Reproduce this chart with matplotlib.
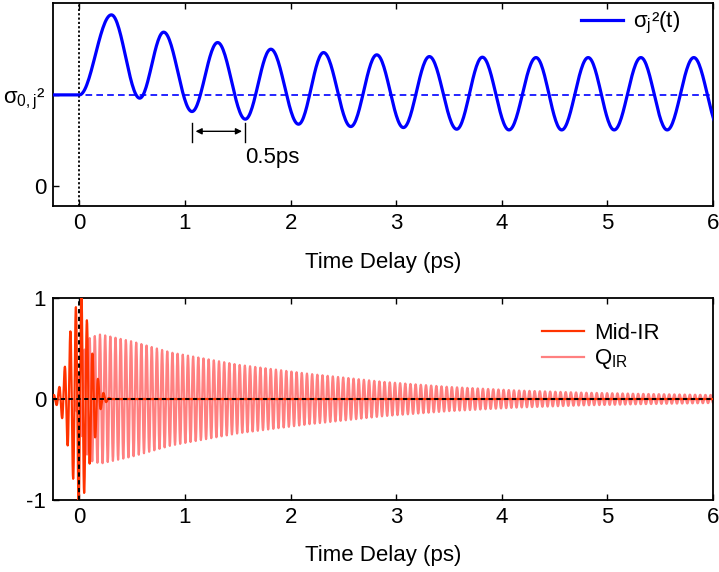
import numpy as np
import matplotlib
matplotlib.use("Agg")
import matplotlib.pyplot as plt

plt.rcParams['font.family'] = ['Liberation Sans', 'DejaVu Sans']
plt.rcParams['mathtext.fontset'] = 'custom'
plt.rcParams['mathtext.rm'] = 'Liberation Sans'
plt.rcParams['mathtext.it'] = 'Liberation Sans'
plt.rcParams['mathtext.bf'] = 'Liberation Sans:bold'
plt.rcParams['axes.unicode_minus'] = False

## top panel: extrema of sigma_j^2(t) (units of sigma_0^2)
sig_t = [-0.25, 0.0, 0.303, 0.571, 0.798, 1.066, 1.309, 1.571, 1.813, 2.075,
         2.312, 2.570, 2.816, 3.068, 3.314, 3.573, 3.816, 4.068, 4.324, 4.567,
         4.818, 5.064, 5.317, 5.566, 5.818, 6.070]
sig_v = [1.0, 1.0, 1.879, 0.964, 1.689, 0.817, 1.575, 0.733, 1.502, 0.678,
         1.465, 0.652, 1.440, 0.641, 1.421, 0.623, 1.414, 0.615, 1.410, 0.615,
         1.410, 0.615, 1.410, 0.615, 1.410, 0.615]

## bottom panel: Mid-IR pulse extrema
mir_t = [-0.267, -0.241, -0.215, -0.189, -0.163, -0.137, -0.111, -0.085, -0.059,
         -0.033, -0.007, 0.019, 0.045, 0.071, 0.097, 0.123, 0.149, 0.175, 0.201,
         0.227, 0.253, 0.279, 0.305]
mir_v = [0.0, 0.04, -0.06, 0.12, -0.19, 0.32, -0.46, 0.67, -0.79,
         0.91, -1.05, 1.05, -0.93, 0.78, -0.64, 0.45, -0.38, 0.20, -0.10,
         0.06, -0.03, 0.01, 0.0]

qir_env_t = [-0.05, 0.0, 0.05, 0.1, 0.2, 0.5, 0.87, 1.5, 2.17, 2.88, 3.5, 4.14, 4.77, 5.4, 6.0]
qir_env_v = [0.0, 0.25, 0.50, 0.61, 0.64, 0.57, 0.46, 0.34, 0.25, 0.17, 0.12, 0.085, 0.063, 0.05, 0.04]
qir_period = 0.049

blue = "#0000FF"
midir_col = "#FF3300"
qir_col = "#FF8080"


def cos_segments(tx, vy, n=12):
    """Join extrema with half-cosine segments (zero slope at each extremum)."""
    ts, vs = [], []
    for i in range(len(tx) - 1):
        s = np.linspace(0, 1, n, endpoint=False)
        ts.append(tx[i] + (tx[i + 1] - tx[i]) * s)
        vs.append(vy[i] + (vy[i + 1] - vy[i]) * (1 - np.cos(np.pi * s)) / 2)
    ts.append([tx[-1]])
    vs.append([vy[-1]])
    return np.concatenate(ts), np.concatenate(vs)


fig = plt.figure(figsize=(7.19, 5.72), dpi=100)
ax1 = fig.add_axes([0.0737, 0.6399, 0.918, 0.355])
ax2 = fig.add_axes([0.0737, 0.1259, 0.918, 0.353])

FS = 16

# -------- top panel --------
ax1.axhline(1.0, color=blue, lw=1.2, ls=(0, (4, 2.5)), zorder=1)
ax1.axvline(0.0, color="black", lw=1.3, ls=(0, (1.2, 1.2)), zorder=1)
t, v = cos_segments(sig_t, sig_v, n=30)
ax1.plot(t, v, color=blue, lw=2.3, label="σ$_j$²(t)", zorder=3)

# 0.5 ps period marker
ax1.plot([1.07, 1.07], [0.48, 0.69], color="black", lw=1.0)
ax1.plot([1.57, 1.57], [0.48, 0.69], color="black", lw=1.0)
ax1.annotate("", xy=(1.10, 0.60), xytext=(1.54, 0.60),
             arrowprops=dict(arrowstyle="<|-|>", color="black", lw=1.0,
                             mutation_scale=9, shrinkA=0, shrinkB=0))
ax1.text(1.57, 0.31, "0.5ps", fontsize=FS, ha="left", va="center")

ax1.set_xlim(-0.25, 6)
ax1.set_ylim(-0.22, 2.01)
ax1.set_yticks([0, 1])
ax1.set_yticklabels(["0", "σ$_{0,j}$²"])
ax1.set_xlabel("Time Delay (ps)", fontsize=FS, labelpad=13)
ax1.legend(loc="upper right", frameon=False, fontsize=FS, handlelength=1.9,
           handletextpad=0.45, borderaxespad=0.1, bbox_to_anchor=(0.967, 1.02))

# -------- bottom panel --------
ext_t = np.arange(qir_env_t[0], 6.0 + qir_period, qir_period / 2)
ext_v = np.interp(ext_t, qir_env_t, qir_env_v) * np.where(np.arange(len(ext_t)) % 2 == 0, 1, -1)
tq, vq = cos_segments(ext_t, ext_v, n=8)
ax2.plot(tq, vq, color=qir_col, lw=1.6, label=r"Q$_{\rm IR}$", zorder=2)

tm, vm = cos_segments(mir_t, mir_v, n=10)
tm = np.concatenate([[-0.25], tm, [6.0]])
vm = np.concatenate([[0.0], vm, [0.0]])
ax2.plot(tm, vm, color=midir_col, lw=1.6, label="Mid-IR", zorder=3)

ax2.axhline(0.0, color="black", lw=1.4, ls=(0, (2.2, 1.8)), zorder=4)
ax2.axvline(0.0, color="black", lw=1.4, ls=(0, (2.2, 1.8)), zorder=4)

ax2.set_xlim(-0.25, 6)
ax2.set_ylim(-1, 1)
ax2.set_yticks([-1, 0, 1])
ax2.set_xlabel("Time Delay (ps)", fontsize=FS, labelpad=12)
h, l = ax2.get_legend_handles_labels()
ax2.legend([h[1], h[0]], [l[1], l[0]], loc="upper right", frameon=False, fontsize=FS,
           handlelength=1.9, handletextpad=0.45, labelspacing=0.15,
           bbox_to_anchor=(0.95, 0.975))

for ax in (ax1, ax2):
    ax.set_xticks(range(0, 7))
    ax.tick_params(direction="in", top=True, right=False, length=4.5, width=1.0,
                   labelsize=FS, pad=5)
    for sp in ax.spines.values():
        sp.set_linewidth(1.3)

fig.savefig("out.png", dpi=100)
